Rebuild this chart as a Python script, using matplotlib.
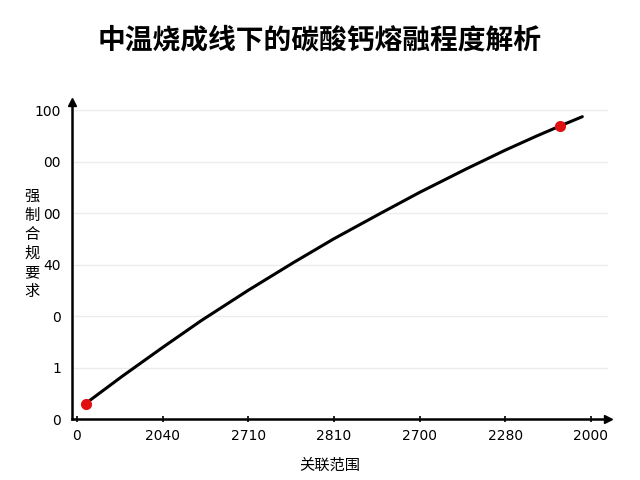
import matplotlib
matplotlib.use("Agg")
import matplotlib.pyplot as plt

plt.rcParams['font.family'] = ['Noto Sans CJK SC', 'DejaVu Sans']

title = "中温烧成线下的碳酸钙熔融程度解析"
x_label = "关联范围"
y_label = "强制合规要求"
x_tick_labels = ["0", "2040", "2710", "2810", "2700", "2280", "2000"]
y_tick_labels = ["0", "1", "0", "40", "00", "00", "100"]

curve_x = [0.10, 0.52, 1.00, 1.45, 2.00, 2.53, 3.00, 3.54, 4.00, 4.55, 5.00, 5.36, 5.64, 5.90]
curve_y = [0.30, 0.82, 1.39, 1.91, 2.50, 3.04, 3.50, 3.99, 4.40, 4.86, 5.22, 5.49, 5.69, 5.87]
marker_x = [0.10, 5.64]
marker_y = [0.30, 5.69]

fig = plt.figure(figsize=(6.4, 4.8), dpi=100)
ax = fig.add_axes([0.1125, 0.127, 0.8375, 0.661])

ax.plot(curve_x, curve_y, color='black', lw=2.2, solid_capstyle='round',
        solid_joinstyle='round', zorder=3)
ax.plot(marker_x, marker_y, 'o', color='#e01010', markersize=7, zorder=4)

ax.set_xlim(-0.058, 6.20)
ax.set_ylim(0, 6.16)
ax.set_xticks(range(len(x_tick_labels)))
ax.set_xticklabels(x_tick_labels, fontsize=10, family=['DejaVu Sans'])
ax.set_yticks(range(len(y_tick_labels)))
ax.set_yticklabels(y_tick_labels, fontsize=10, family=['DejaVu Sans'])
ax.tick_params(axis='y', length=0, pad=8)
ax.tick_params(axis='x', direction='inout', length=5, width=1.2, pad=5)

ax.grid(axis='y', color='#ececec', lw=1)
ax.set_axisbelow(True)
for s in ['top', 'right']:
    ax.spines[s].set_visible(False)
for s in ['left', 'bottom']:
    ax.spines[s].set_linewidth(1.8)
    ax.spines[s].set_color('black')

ax.plot(1, 0, '>', color='black', markersize=6, transform=ax.transAxes, clip_on=False)
ax.plot(0, 1, '^', color='black', markersize=6, transform=ax.transAxes, clip_on=False)

fig.text(0.5, 1 - 40 / 480, title, ha='center', va='center', fontsize=20, fontweight='bold')
fig.text(330 / 640, 1 - 465 / 480, x_label, ha='center', va='center', fontsize=11)
fig.text(32 / 640, 1 - 244 / 480, "\n".join(y_label), ha='center', va='center',
         fontsize=11, linespacing=1.15)

fig.savefig("out.png", dpi=100)
